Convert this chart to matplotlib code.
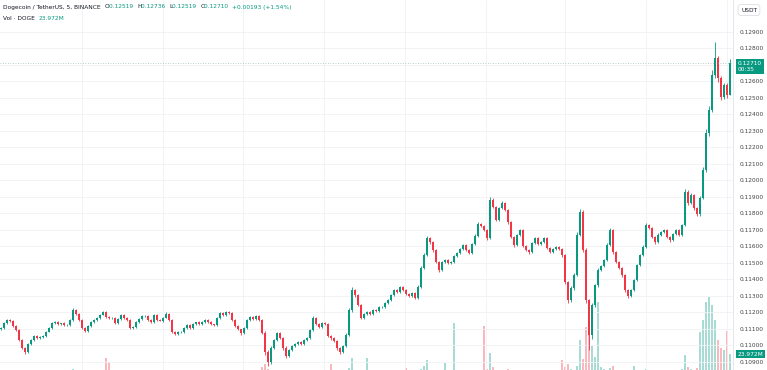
import matplotlib
matplotlib.use("Agg")
import matplotlib.pyplot as plt
import numpy as np

# ── data (prices in 1e-5 USDT, volume in millions DOGE) ──────────────
closes = [
    11106, 11136, 11155, 11150, 11118, 11094, 11033, 10985, 10961, 11010,
    11033, 11058, 11045, 11052, 11058, 11082, 11106, 11136, 11142, 11130,
    11136, 11124, 11124, 11155, 11215, 11191, 11155, 11106, 11088, 11118,
    11142, 11155, 11167, 11185, 11203, 11173, 11167, 11167, 11136, 11161,
    11185, 11167, 11155, 11106, 11112, 11142, 11161, 11179, 11179, 11155,
    11142, 11185, 11155, 11150, 11167, 11191, 11155, 11082, 11070, 11082,
    11082, 11106, 11124, 11106, 11130, 11142, 11130, 11142, 11155, 11142,
    11130, 11124, 11167, 11197, 11185, 11203, 11197, 11155, 11118, 11100,
    11076, 11106, 11155, 11173, 11161, 11179, 11155, 11076, 10961, 10900,
    10985, 11033, 11076, 11045, 10985, 10936, 10973, 10997, 11009, 11021,
    11009, 11033, 11045, 11094, 11167, 11130, 11112, 11136, 11130, 11058,
    11045, 11027, 10985, 10961, 10997, 11064, 11215, 11336, 11306, 11245,
    11167, 11191, 11203, 11191, 11215, 11209, 11233, 11233, 11258, 11276,
    11306, 11336, 11324, 11355, 11336, 11312, 11300, 11318, 11288, 11355,
    11470, 11548, 11651, 11627, 11579, 11506, 11458, 11506, 11518, 11500,
    11506, 11542, 11561, 11585, 11609, 11579, 11561, 11615, 11663, 11736,
    11724, 11700, 11651, 11882, 11839, 11761, 11833, 11864, 11821, 11748,
    11658, 11609, 11670, 11700, 11603, 11579, 11567, 11621, 11651, 11615,
    11627, 11651, 11591, 11567, 11585, 11597, 11585, 11548, 11385, 11276,
    11348, 11427, 11670, 11809, 11579, 11276, 11064, 11245, 11367, 11458,
    11482, 11518, 11609, 11700, 11567, 11506, 11470, 11427, 11336, 11300,
    11336, 11397, 11488, 11548, 11597, 11730, 11712, 11658, 11627, 11670,
    11688, 11700, 11658, 11639, 11676, 11700, 11670, 11730, 11930, 11864,
    11912, 11833, 11797, 11894, 12064, 12288, 12427, 12639, 12742, 12621,
    12506, 12579, 12517, 12710,
]
hi_wick = [
    6, 5, 8, 4, 3, 5, 4, 6, 5, 7, 4, 6, 3, 5, 4, 6, 5, 8, 4, 5,
    3, 6, 5, 8, 10, 6, 4, 3, 5, 7, 4, 6, 5, 8, 9, 4, 5, 6, 4, 7,
    8, 5, 4, 3, 6, 5, 7, 6, 4, 5, 3, 8, 4, 5, 6, 9, 5, 4, 6, 3,
    5, 6, 4, 7, 5, 3, 6, 5, 8, 4, 5, 3, 7, 9, 5, 6, 4, 3, 5, 4,
    3, 6, 8, 5, 7, 4, 6, 5, 9, 12, 10, 8, 6, 7, 5, 9, 6, 5, 4, 6,
    5, 4, 7, 9, 12, 6, 5, 8, 4, 5, 3, 4, 6, 5, 7, 10, 14, 18, 9, 6,
    5, 7, 6, 4, 8, 5, 6, 5, 7, 6, 8, 9, 5, 7, 6, 4, 5, 6, 4, 9,
    14, 12, 15, 8, 6, 5, 4, 7, 6, 5, 4, 6, 5, 7, 8, 5, 4, 9, 10, 12,
    8, 6, 5, 20, 10, 6, 9, 12, 7, 6, 5, 4, 8, 9, 5, 4, 6, 8, 6, 5,
    7, 6, 5, 4, 6, 5, 4, 5, 6, 8, 10, 15, 18, 21, 12, 9, 8, 10, 8, 9,
    7, 8, 10, 12, 6, 5, 7, 4, 5, 6, 8, 7, 6, 9, 10, 12, 8, 6, 7, 9,
    6, 7, 5, 8, 6, 7, 5, 9, 18, 10, 12, 8, 9, 14, 20, 25, 22, 30, 98, 15,
    12, 14, 10, 26,
]
lo_wick = [
    5, 4, 6, 7, 5, 8, 6, 9, 12, 5, 6, 4, 5, 6, 4, 5, 3, 5, 6, 4,
    5, 4, 6, 3, 5, 7, 6, 8, 9, 5, 4, 6, 5, 4, 3, 6, 5, 4, 7, 6,
    4, 5, 6, 8, 7, 5, 4, 6, 5, 4, 7, 5, 6, 4, 5, 3, 6, 9, 8, 6,
    5, 4, 6, 5, 4, 6, 3, 5, 4, 6, 5, 7, 4, 5, 6, 4, 7, 6, 8, 9,
    10, 6, 5, 4, 6, 5, 7, 9, 18, 24, 10, 6, 8, 7, 12, 14, 8, 6, 5, 4,
    6, 5, 4, 6, 5, 7, 6, 5, 4, 8, 9, 7, 10, 12, 8, 6, 5, 10, 12, 8,
    9, 5, 6, 4, 5, 6, 4, 5, 6, 5, 4, 6, 5, 4, 7, 6, 5, 8, 9, 6,
    5, 6, 8, 10, 12, 9, 10, 6, 5, 7, 6, 5, 4, 6, 5, 8, 9, 6, 5, 4,
    6, 8, 10, 5, 7, 9, 6, 5, 8, 10, 9, 12, 6, 5, 9, 8, 10, 6, 5, 7,
    6, 5, 8, 9, 6, 5, 7, 9, 14, 20, 12, 10, 8, 9, 15, 20, 91, 25, 12, 10,
    8, 7, 6, 9, 10, 8, 7, 9, 10, 12, 9, 8, 7, 6, 5, 7, 8, 9, 10, 6,
    7, 6, 8, 9, 6, 5, 7, 6, 8, 10, 9, 12, 14, 10, 8, 15, 18, 12, 20, 25,
    20, 15, 18, 0,
]
volume_m = [
    6, 5, 7, 9, 6, 5, 8, 10, 11, 7, 6, 5, 6, 4, 5, 7, 8, 9, 6, 5,
    5, 6, 7, 5, 12, 8, 6, 7, 9, 6, 5, 6, 7, 5, 8, 21, 18, 6, 5, 7,
    6, 5, 4, 6, 8, 7, 5, 6, 5, 4, 6, 7, 5, 6, 4, 8, 6, 9, 7, 5,
    4, 6, 5, 7, 5, 4, 6, 5, 4, 6, 5, 4, 8, 9, 6, 5, 4, 6, 7, 8,
    9, 6, 5, 4, 5, 6, 5, 14, 16, 12, 10, 8, 6, 7, 9, 10, 8, 6, 5, 4,
    5, 6, 5, 7, 9, 6, 5, 4, 5, 6, 16, 7, 8, 10, 9, 11, 13, 21, 10, 8,
    7, 6, 21, 5, 6, 4, 5, 6, 5, 7, 6, 8, 5, 6, 5, 13, 6, 5, 6, 7,
    12, 15, 19, 10, 8, 7, 9, 6, 17, 8, 7, 48, 9, 7, 6, 8, 7, 9, 10, 11,
    9, 46, 12, 25, 14, 10, 8, 11, 9, 12, 10, 8, 7, 9, 8, 10, 7, 6, 7, 6,
    8, 7, 9, 6, 7, 8, 9, 19, 14, 16, 12, 10, 15, 35, 20, 45, 50, 30, 22, 64,
    14, 12, 11, 13, 15, 10, 9, 8, 10, 11, 9, 15, 10, 9, 8, 12, 9, 8, 7, 8,
    7, 8, 9, 7, 6, 8, 10, 12, 23, 14, 12, 11, 13, 41, 50, 64, 68, 62, 50, 35,
    29, 27, 42, 23.972,
]
first_open = 11100
last_open = 12519
price_ticks = list(range(10900, 13000, 100))

UP = "#089981"
DOWN = "#f23645"
TXT = "#131722"

# ── candles ──────────────────────────────────────────────────────────
c = np.array(closes) / 1e5
o = np.array([first_open] + closes[:-1], dtype=float) / 1e5
o[-1] = last_open / 1e5
top = np.maximum(o, c)
bot = np.minimum(o, c)
h = top + np.array(hi_wick) / 1e5
l = bot - np.array(lo_wick) / 1e5
up = c >= o
colors = np.where(up, UP, DOWN)
vol_colors = [(0.031, 0.6, 0.506, 0.35) if u else (0.949, 0.212, 0.271, 0.35) for u in up]
idx = np.arange(len(c))

W, H = 767, 370
fig = plt.figure(figsize=(W / 100, H / 100), dpi=100)
rect = [0, 0, 733 / W, 1]

ax_v = fig.add_axes(rect)
ax = fig.add_axes(rect, sharex=ax_v)
ax.set_facecolor("none")
ax_v.set_zorder(0)
ax.set_zorder(1)

# volume overlay (base sits below the visible area)
ax_v.bar(idx, volume_m, width=0.55, color=vol_colors, lw=0)
ax_v.set_ylim(11.6, 298.4)
ax_v.axis("off")

ax.vlines(idx, l, h, colors=colors, lw=0.6)
ax.bar(idx, np.maximum(top - bot, 1.2e-5), bottom=bot, width=0.6,
       color=colors, lw=0)

ax.set_xlim(-1 / 3, 244)
ax.set_ylim(0.108515, 0.130939)

# grid
for t in price_ticks:
    ax.axhline(t / 1e5, color="#f0f1f4", lw=0.6, zorder=0)
for gx in [27, 54, 80.5, 107.5, 134.5, 161.5, 188, 215, 242]:
    ax.axvline(gx, color="#f0f1f4", lw=0.6, zorder=0)

# last price line
ax.axhline(c[-1], color="#7fa9a2", lw=0.6, ls=(0, (1, 2)), alpha=0.7)

# axes / ticks (the 0.12700 label sits under the price marker)
ax.set_xticks([])
ax.yaxis.tick_right()
ax.set_yticks([t / 1e5 for t in price_ticks])
ax.set_yticklabels(["" if t == 12700 else f"{t / 1e5:.5f}" for t in price_ticks])
ax.tick_params(axis="y", length=0, pad=5, labelsize=4.2, labelcolor="#444444")
for s in ["top", "left", "bottom"]:
    ax.spines[s].set_visible(False)
ax.spines["right"].set_color("#e0e3eb")
ax.spines["right"].set_linewidth(0.6)

# price label
ax.annotate(f"{c[-1]:.5f}\n00:35", xy=(1, c[-1]),
            xycoords=("axes fraction", "data"), xytext=(3.5, -2.5),
            textcoords="offset points", ha="left", va="center",
            fontsize=4.2, color="white", linespacing=1.3,
            bbox=dict(boxstyle="square,pad=0.35", fc=UP, ec="none"),
            annotation_clip=False)
# volume label
ax_v.annotate(f"{volume_m[-1]:.3f}M", xy=(1, volume_m[-1]),
              xycoords=("axes fraction", "data"), xytext=(3.5, 0),
              textcoords="offset points", ha="left", va="center",
              fontsize=4.2, color="white",
              bbox=dict(boxstyle="square,pad=0.3", fc=UP, ec="none"),
              annotation_clip=False)
fig.text(749 / W, 1 - 10 / H, "USDT", ha="center", va="center", fontsize=4.2,
         color=TXT, bbox=dict(boxstyle="round,pad=0.5", fc="white",
                              ec="#d6d8de", lw=0.5))

# header legend
chg = c[-1] - c[-2]
pieces = [
    ("Dogecoin / TetherUS, 5, BINANCE  ", TXT),
    ("O", TXT), (f"{o[-1]:.5f}  ", UP),
    ("H", TXT), (f"{h[-1]:.5f}  ", UP),
    ("L", TXT), (f"{l[-1]:.5f}  ", UP),
    ("C", TXT), (f"{c[-1]:.5f}  ", UP),
    (f"{chg:+.5f} ({chg / c[-2] * 100:+.2f}%)", UP),
]
prev = ax.text(3 / 733, 1 - 7 / H, pieces[0][0], transform=ax.transAxes,
               fontsize=4.2, color=pieces[0][1], va="center", ha="left")
for s, col in pieces[1:]:
    prev = ax.annotate(s, xy=(1, 0.5), xycoords=prev, va="center", ha="left",
                       fontsize=4.2, color=col)
vt = ax.text(3 / 733, 1 - 19 / H, "Vol · DOGE  ", transform=ax.transAxes,
             fontsize=4.2, color=TXT, va="center", ha="left")
ax.annotate(f"{volume_m[-1]:.3f}M", xy=(1, 0.5), xycoords=vt, va="center",
            ha="left", fontsize=4.2, color=UP)

fig.savefig("out.png", dpi=100)
